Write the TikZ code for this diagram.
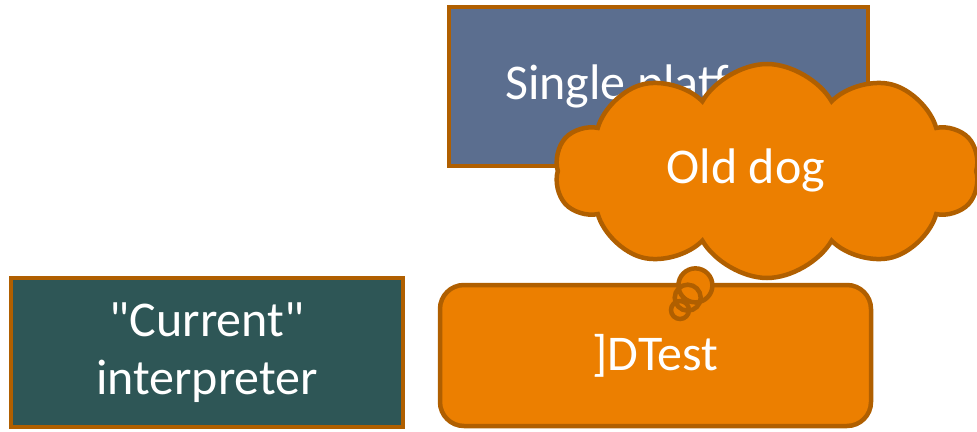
\documentclass[tikz,border=0pt]{standalone}
\usepackage{fontspec}
\setmainfont{Carlito}
\usetikzlibrary{shapes.symbols,shapes.callouts}
\definecolor{slateblue}{HTML}{5B6E8F}
\definecolor{boxorange}{HTML}{EC7F00}
\definecolor{rimbrown}{HTML}{B05F00}
\definecolor{darkteal}{HTML}{2E5656}

\begin{document}
\begin{tikzpicture}[x=1pt,y=1pt,
  box/.style={draw=rimbrown,line width=4.5pt,text=white,align=center,
    font=\fontsize{50}{58}\selectfont,inner sep=0pt}]
  \useasboundingbox (0,0) rectangle (977,-431);
  \node[box,fill=slateblue,minimum width=419pt,minimum height=159pt] (single) at (658.5,-86.5) {Single platform};
  \node[box,fill=darkteal,minimum width=392pt,minimum height=149pt] (current) at (207,-352.5) {\textquotedbl Current\textquotedbl\\interpreter};
  \node[box,fill=boxorange,rounded corners=24pt,minimum width=431pt,minimum height=141pt] (dtest) at (655.5,-355.5) {]DTest};
  % thought bubble pointing at the test box
  \coordinate (think) at (680,-310);
  \node[box,fill=boxorange,cloud callout,cloud puffs=10,cloud puff arc=120,cloud ignores aspect,
    minimum width=424pt,minimum height=214pt,
    callout absolute pointer={(think)},callout pointer segments=3,
    callout pointer start size=42pt,callout pointer end size=18pt] (olddog) at (767,-171) {};
  \node[box,draw=none] (olddoglabel) at (746,-170) {Old dog};
\end{tikzpicture}
\end{document}
